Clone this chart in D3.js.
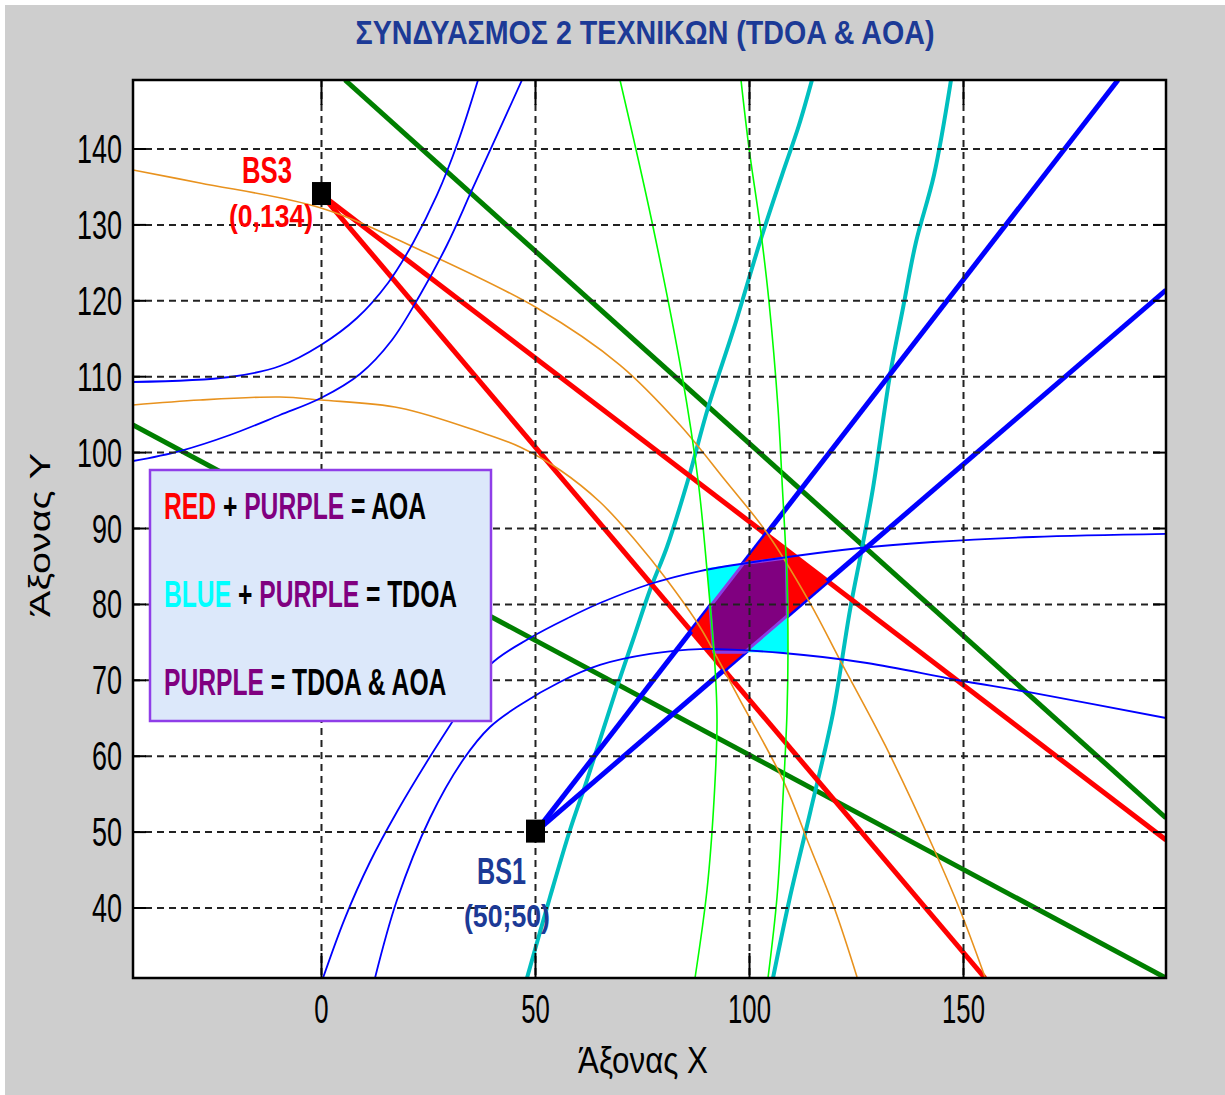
<!DOCTYPE html>
<html><head><meta charset="utf-8">
<script src="https://cdn.jsdelivr.net/npm/d3@7"></script>
<style>
html,body{margin:0;padding:0;background:#fff;}
svg{display:block;}
text{font-family:"Liberation Sans",Arial,sans-serif;white-space:pre;}
</style></head><body>
<svg id="chart" width="1225" height="1095"></svg>
<script>
// ---------------- DATA ----------------
const title = "ΣΥΝΔΥΑΣΜΟΣ 2 ΤΕΧΝΙΚΩΝ (TDOA & AOA)";
const xLabel = "Άξονας X";
const yLabel = "Άξονας Y";
const xDomain = [-44.04, 197.31];
const yDomain = [30.78, 149.09];
const xTicks = [0, 50, 100, 150];
const yTicks = [40, 50, 60, 70, 80, 90, 100, 110, 120, 130, 140];

const stationNames = ["BS3", "BS1"];
const stationCoordsText = ["(0,134)", "(50;50)"];
const stationX = [0, 50];
const stationY = [134, 50];

// AOA bearing lines (thick)
const aoaBS3Upper = [[0, 134], [197.31, 48.96]];
const aoaBS3Lower = [[0, 134], [155.02, 30.78]];
const aoaBS1Upper = [[50, 50], [186.1, 149.09]];
const aoaBS1Lower = [[50, 50], [197.31, 121.42]];
const darkGreenUpper = [[5.49, 149.09], [197.31, 51.86]];
const darkGreenLower = [[-44.04, 103.64], [197.31, 30.78]];

// cyan (thick) curves
const cyan1 = [[48.01,30.78],[53.39,41.45],[58.06,50.28],[62.03,56.86],[69.04,69.12],[72.78,75.31],[76.75,81.90],[80.72,87.56],[85.63,96.39],[90.30,105.88],[96.38,116.42],[102.45,127.75],[107.59,136.57],[111.57,143.16],[114.60,149.09]];
const cyan2 = [[105.49,30.78],[109.46,41.45],[114.14,52.52],[119.51,65.69],[123.48,79.26],[126.29,87.43],[128.86,95.34],[132.83,110.22],[135.86,119.05],[138.90,127.75],[143.11,136.57],[147.08,149.09]];

// orange (thin) curves
const orangeA = [[-44.04,137.23],[-28.39,135.52],[-0.12,132.23],[23.01,126.69],[50.35,119.05],[69.74,111.54],[83.76,103.64],[94.27,96.39],[104.09,89.41],[114.14,80.18],[121.14,72.67],[131.66,61.48],[142.87,48.04],[149.18,39.74],[155.02,30.91]];
const orangeB = [[-44.04,106.27],[-28.39,106.93],[-9.70,107.33],[-0.12,106.93],[18.34,105.88],[37.03,102.71],[46.38,100.74],[55.72,97.71],[65.07,93.49],[73.25,88.48],[80.72,83.21],[88.43,77.02],[93.11,72.28],[97.78,67.40],[107.83,56.86],[114.14,48.04],[119.98,39.74],[125.12,30.91]];

// blue (thin) hyperbola branches
const blueThin1 = [[-44.04,109.30],[-21.38,109.96],[-9.70,111.41],[-0.12,114.18],[8.29,117.73],[15.54,122.35],[21.38,127.62],[26.99,133.94],[31.89,140.92],[36.57,149.09]];
const blueThin2 = [[-44.04,98.89],[-33.06,100.21],[-21.38,102.32],[-9.70,104.95],[-0.12,107.19],[9.00,110.36],[16.47,114.84],[23.01,120.76],[29.32,127.35],[35.16,134.60],[41.00,141.84],[46.85,149.09]];
const blueThin3 = [[0.35,30.78],[5.49,38.68],[11.33,46.06],[17.87,52.91],[24.88,59.50],[32.36,66.09],[39.37,72.02],[48.71,75.57],[58.06,78.34],[65.07,80.18],[76.75,82.69],[88.43,84.40],[104.09,85.85],[125.82,87.43],[142.87,88.22],[166.24,88.88],[197.31,89.28]];
const blueThin4 = [[12.50,30.78],[17.64,41.05],[25.35,51.86],[33.06,59.50],[39.37,63.85],[46.38,66.75],[55.72,69.78],[65.07,72.02],[76.75,73.47],[88.43,74.12],[107.83,73.60],[127.45,72.28],[148.48,70.04],[166.24,68.33],[197.31,65.03]];

// bright green (thin) curves
const greenThin1 = [[69.74,149.09],[77.22,130.38],[84.23,110.22],[87.97,96.39],[90.07,84.53],[91.94,71.75],[92.41,64.77],[91.71,54.23],[90.07,42.37],[87.27,30.78]];
const greenThin2 = [[98.01,149.09],[99.88,140.13],[102.45,129.99],[104.56,119.84],[106.66,105.88],[107.59,96.39],[108.76,83.21],[108.99,73.60],[108.76,65.69],[107.83,54.62],[106.43,41.45],[104.32,30.78]];

// TDOA region (cyan)
const tdoaRegion = [[90.07,84.80],[108.6,86.1],[108.99,73.70],[91.6,73.70]];

// legend
const legendLines = [
  [["RED","#ff0000"],[" + ","#000000"],["PURPLE","#800080"],[" = AOA","#000000"]],
  [["BLUE","#00ffff"],[" + ","#000000"],["PURPLE","#800080"],[" = TDOA","#000000"]],
  [["PURPLE","#800080"],[" = TDOA & AOA","#000000"]]
];

// ---------------- DRAW ----------------
const svg = d3.select("#chart");
const M = {left:133, right:1166, top:80, bottom:978};
const x = d3.scaleLinear().domain(xDomain).range([M.left, M.right]);
const y = d3.scaleLinear().domain(yDomain).range([M.bottom, M.top]);
const line = d3.line().x(d => x(d[0])).y(d => y(d[1]));
const curve = d3.line().x(d => x(d[0])).y(d => y(d[1])).curve(d3.curveCatmullRom.alpha(0.5));

svg.append("rect").attr("x",0).attr("y",0).attr("width",1225).attr("height",1095).attr("fill","#ffffff");
svg.append("rect").attr("x",5).attr("y",5).attr("width",1220).attr("height",1090).attr("fill","#cecece");

svg.append("defs").append("clipPath").attr("id","clip")
  .append("rect").attr("x",M.left).attr("y",M.top).attr("width",M.right-M.left).attr("height",M.bottom-M.top);

svg.append("rect").attr("x",M.left).attr("y",M.top).attr("width",M.right-M.left).attr("height",M.bottom-M.top).attr("fill","#ffffff");

const plot = svg.append("g").attr("clip-path","url(#clip)");

function drawPath(data, color, width, smooth) {
  plot.append("path").datum(data).attr("d", smooth ? curve : line)
    .attr("fill","none").attr("stroke",color).attr("stroke-width",width)
    .attr("stroke-linejoin","round").attr("stroke-linecap","butt");
}

// thick lines
drawPath(darkGreenUpper, "#007f00", 5, false);
drawPath(darkGreenLower, "#007f00", 5, false);
drawPath(cyan1, "#00bfbf", 4, true);
drawPath(cyan2, "#00bfbf", 4, true);
drawPath(aoaBS3Upper, "#ff0000", 5, false);
drawPath(aoaBS3Lower, "#ff0000", 5, false);
drawPath(aoaBS1Upper, "#0000ff", 5, false);
drawPath(aoaBS1Lower, "#0000ff", 5, false);

// regions
function intersect(a, b) {
  const [p1,p2] = a, [p3,p4] = b;
  const d = (p1[0]-p2[0])*(p3[1]-p4[1]) - (p1[1]-p2[1])*(p3[0]-p4[0]);
  const t = ((p1[0]-p3[0])*(p3[1]-p4[1]) - (p1[1]-p3[1])*(p3[0]-p4[0])) / d;
  return [p1[0]+t*(p2[0]-p1[0]), p1[1]+t*(p2[1]-p1[1])];
}
const aoaRegion = [
  intersect(aoaBS3Upper, aoaBS1Upper),
  intersect(aoaBS3Upper, aoaBS1Lower),
  intersect(aoaBS3Lower, aoaBS1Lower),
  intersect(aoaBS3Lower, aoaBS1Upper)
];
function clipPoly(subject, clipP) {
  const c = d3.polygonCentroid(clipP);
  const cross = (a,b,p) => (b[0]-a[0])*(p[1]-a[1]) - (b[1]-a[1])*(p[0]-a[0]);
  let out = subject.slice();
  for (let i=0;i<clipP.length;i++) {
    const a = clipP[i], b = clipP[(i+1)%clipP.length];
    const s = Math.sign(cross(a,b,c));
    const inside = p => Math.sign(cross(a,b,p)) === s || cross(a,b,p) === 0;
    const input = out; out = [];
    for (let j=0;j<input.length;j++) {
      const P = input[j], Q = input[(j+1)%input.length];
      const Pin = inside(P), Qin = inside(Q);
      if (Pin) { out.push(P); if (!Qin) out.push(intersect([P,Q],[a,b])); }
      else if (Qin) out.push(intersect([P,Q],[a,b]));
    }
  }
  return out;
}
const bothRegion = clipPoly(tdoaRegion, aoaRegion);

plot.append("path").datum(aoaRegion).attr("d", d => line(d) + "Z").attr("fill","#ff0000");
plot.append("path").datum(tdoaRegion).attr("d", d => line(d) + "Z").attr("fill","#00ffff");
plot.append("path").datum(bothRegion).attr("d", d => line(d) + "Z").attr("fill","#800080")
  .attr("stroke","#8a3ce6").attr("stroke-width",3).attr("stroke-linejoin","round");

// thin lines
drawPath(orangeA, "#e8921e", 1.6, true);
drawPath(orangeB, "#e8921e", 1.6, true);
drawPath(blueThin1, "#0000ff", 1.8, true);
drawPath(blueThin2, "#0000ff", 1.8, true);
drawPath(blueThin3, "#0000ff", 1.8, true);
drawPath(blueThin4, "#0000ff", 1.8, true);
drawPath(greenThin1, "#00ff00", 1.6, true);
drawPath(greenThin2, "#00ff00", 1.6, true);

// grid
const grid = svg.append("g");
xTicks.forEach(t => {
  grid.append("line").attr("x1",x(t)).attr("x2",x(t)).attr("y1",M.top).attr("y2",M.bottom)
    .attr("stroke","#222").attr("stroke-width",2).attr("stroke-dasharray","7,5");
});
yTicks.forEach(t => {
  grid.append("line").attr("x1",M.left).attr("x2",M.right).attr("y1",y(t)).attr("y2",y(t))
    .attr("stroke","#222").attr("stroke-width",2).attr("stroke-dasharray","7,5");
});
// ticks
xTicks.forEach(t => {
  grid.append("line").attr("x1",x(t)).attr("x2",x(t)).attr("y1",M.bottom).attr("y2",M.bottom-25).attr("stroke","#000").attr("stroke-width",2);
  grid.append("line").attr("x1",x(t)).attr("x2",x(t)).attr("y1",M.top).attr("y2",M.top+25).attr("stroke","#000").attr("stroke-width",2);
});
yTicks.forEach(t => {
  grid.append("line").attr("x1",M.left).attr("x2",M.left+13).attr("y1",y(t)).attr("y2",y(t)).attr("stroke","#000").attr("stroke-width",2);
  grid.append("line").attr("x1",M.right).attr("x2",M.right-13).attr("y1",y(t)).attr("y2",y(t)).attr("stroke","#000").attr("stroke-width",2);
});
svg.append("rect").attr("x",M.left).attr("y",M.top).attr("width",M.right-M.left).attr("height",M.bottom-M.top)
  .attr("fill","none").attr("stroke","#000").attr("stroke-width",2.5);

// tick labels
xTicks.forEach(t => {
  const s = String(t);
  svg.append("text").attr("x",x(t)).attr("y",1023).attr("text-anchor","middle")
    .attr("font-size",41).attr("fill","#000")
    .attr("textLength", s.length*14.3).attr("lengthAdjust","spacingAndGlyphs").text(s);
});
yTicks.forEach(t => {
  const s = String(t);
  svg.append("text").attr("x",122).attr("y",y(t)+14).attr("text-anchor","end")
    .attr("font-size",40).attr("fill","#000")
    .attr("textLength", s.length*15).attr("lengthAdjust","spacingAndGlyphs").text(s);
});

// axis labels & title
svg.append("text").attr("x",643).attr("y",1073).attr("text-anchor","middle").attr("font-size",36)
  .attr("textLength",130).attr("lengthAdjust","spacingAndGlyphs").attr("fill","#000").text(xLabel);
svg.append("text").attr("transform","translate(50,535) rotate(-90)").attr("text-anchor","middle").attr("font-size",30)
  .attr("textLength",164).attr("lengthAdjust","spacingAndGlyphs").attr("fill","#000").text(yLabel);
svg.append("text").attr("x",645).attr("y",44).attr("text-anchor","middle").attr("font-size",33).attr("font-weight","bold")
  .attr("textLength",579).attr("lengthAdjust","spacingAndGlyphs").attr("fill","#1c3a96").text(title);

// stations
const labelCfg = [
  {color:"#ff0000", nameDx:-54.5, nameDy:-11.5, nameW:50, coordDx:-50.5, coordDy:32.5, coordW:84},
  {color:"#1c3a96", nameDx:-34, nameDy:52, nameW:49, coordDx:-28.5, coordDy:95, coordW:86}
];
stationNames.forEach((nm,i) => {
  const px = x(stationX[i]), py = y(stationY[i]);
  const c = labelCfg[i];
  svg.append("rect").attr("x",px-9.5).attr("y",py-12.5).attr("width",19).attr("height",23).attr("fill","#000");
  svg.append("text").attr("x",px+c.nameDx).attr("y",py+c.nameDy).attr("text-anchor","middle")
    .attr("font-size",36).attr("font-weight","bold").attr("fill",c.color)
    .attr("textLength",c.nameW).attr("lengthAdjust","spacingAndGlyphs").text(nm);
  svg.append("text").attr("x",px+c.coordDx).attr("y",py+c.coordDy).attr("text-anchor","middle")
    .attr("font-size",31).attr("font-weight","bold").attr("fill",c.color)
    .attr("textLength",c.coordW).attr("lengthAdjust","spacingAndGlyphs").text(stationCoordsText[i]);
});

// legend
const lg = svg.append("g");
lg.append("rect").attr("x",150).attr("y",470).attr("width",341).attr("height",251)
  .attr("fill","#dce8fa").attr("stroke","#8f3ee8").attr("stroke-width",2.5);
const legendBase = [519, 607, 695];
legendLines.forEach((parts,i) => {
  const g = lg.append("g").attr("transform",`translate(164,${legendBase[i]}) scale(0.685,1)`);
  const t = g.append("text").attr("x",0).attr("y",0).attr("font-size",36).attr("font-weight","bold");
  parts.forEach(p => t.append("tspan").attr("fill",p[1]).text(p[0]));
});
</script>
</body></html>
